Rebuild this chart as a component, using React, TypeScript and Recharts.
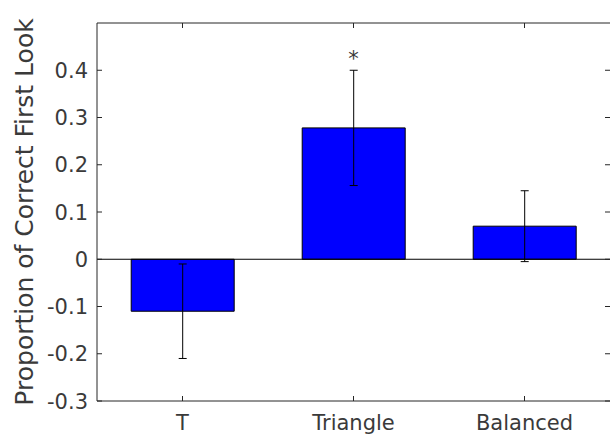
import React from "react";
import {
  BarChart,
  Bar,
  XAxis,
  YAxis,
  ErrorBar,
  ReferenceLine,
  ReferenceDot,
} from "recharts";

const categories = ["T", "Triangle", "Balanced"];
const means = [-0.11, 0.278, 0.07];
const errors = [0.1, 0.122, 0.075];
const marks = ["", "*", ""];
const yTicks = [-0.3, -0.2, -0.1, 0, 0.1, 0.2, 0.3, 0.4];
const yDomain = [-0.3, 0.5];

const data = categories.map((name, i) => ({
  name,
  value: means[i],
  err: errors[i],
  mark: marks[i],
}));

const W = 610;
const H = 436;
const margin = { top: 23, right: 0, bottom: 0, left: 0 };
const plotRight = W - margin.right;
const plotTop = margin.top;

const axisColor = "#262626";
const textColor = "#3a3a3a";
const font = "DejaVu Sans, sans-serif";

// left tick: inward tick on both sides of the box + label outside
function LeftTick(props: any) {
  const { x, y, payload } = props;
  const ax = x + 9;
  return (
    <g>
      <line x1={ax} y1={y} x2={ax + 5} y2={y} stroke={axisColor} />
      <line x1={plotRight - 5} y1={y} x2={plotRight} y2={y} stroke={axisColor} />
      <text x={x} y={y} dy="0.36em" textAnchor="end" fontSize={21} fontFamily={font} fill={textColor}>
        {payload.value}
      </text>
    </g>
  );
}

function BottomTick(props: any) {
  const { x, y, payload } = props;
  return (
    <g>
      <line x1={x} y1={y} x2={x} y2={y - 5} stroke={axisColor} />
      <line x1={x} y1={plotTop} x2={x} y2={plotTop + 5} stroke={axisColor} />
      <text x={x} y={y + 29} textAnchor="middle" fontSize={21} fontFamily={font} fill={textColor}>
        {payload.value}
      </text>
    </g>
  );
}

function YLabel(props: any) {
  const { viewBox } = props;
  const cy = viewBox.y + viewBox.height / 2;
  return (
    <text
      x={33}
      y={cy}
      transform={`rotate(-90, 33, ${cy})`}
      textAnchor="middle"
      fontSize={25}
      fontFamily={font}
      fill={textColor}
    >
      Proportion of Correct First Look
    </text>
  );
}

export default function App() {
  return (
    <div style={{ width: W, height: H, background: "#fff", overflow: "hidden" }}>
      <style>{`body { margin: 0; }`}</style>
      <BarChart width={W} height={H} data={data} margin={margin} barCategoryGap="20%">
        <XAxis
          dataKey="name"
          height={35}
          tickSize={0}
          tickMargin={0}
          tick={<BottomTick />}
          axisLine={{ stroke: axisColor }}
          tickLine={false}
          interval={0}
        />
        <YAxis
          width={97}
          domain={yDomain}
          ticks={yTicks}
          tickSize={0}
          tickMargin={9}
          tick={<LeftTick />}
          axisLine={{ stroke: axisColor }}
          tickLine={false}
          allowDataOverflow
          label={{ content: <YLabel /> }}
        />
        <ReferenceLine y={yDomain[1]} stroke={axisColor} strokeWidth={1} />
        <Bar dataKey="value" fill="#0000ff" stroke="#000000" strokeWidth={1} isAnimationActive={false}>
          <ErrorBar dataKey="err" width={4} stroke="#000000" strokeWidth={1} direction="y" />
        </Bar>
        <ReferenceLine y={0} stroke="#000000" strokeWidth={1} />
        {data
          .filter((d) => d.mark)
          .map((d) => (
            <ReferenceDot
              key={d.name}
              x={d.name}
              y={d.value + d.err + 0.025}
              r={0}
              stroke="none"
              fill="none"
              label={{ value: d.mark, position: "center", fontSize: 21, fontFamily: font, fill: textColor }}
            />
          ))}
      </BarChart>
    </div>
  );
}
